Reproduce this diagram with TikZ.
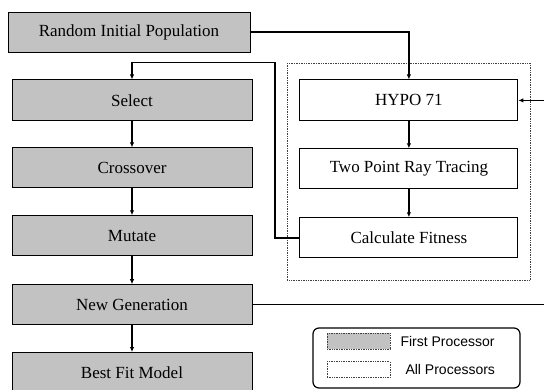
\documentclass[tikz,border=0pt]{standalone}
\usepackage{fontspec}
\setmainfont{Liberation Serif}
\newfontfamily\legendfont{Liberation Sans}
\usepackage{tikz}
\usetikzlibrary{arrows.meta, positioning, fit}
\tikzset{
	every node/.style={
		align=center,
	},
	stage/.style={
		draw, line width=0.9pt, minimum height=40pt, inner sep=0pt,
		font=\fontsize{17}{20}\selectfont,
	},
	first/.style={stage, fill=black!24, minimum width=240pt},
	allproc/.style={stage, fill=white, minimum width=218pt},
	group/.style={draw=black!75, densely dotted, line width=0.7pt, inner sep=0pt},
	flow/.style={line width=1.7pt, -{Latex[length=5pt,width=4.5pt]}},
	swatch/.style={draw=black!75, densely dotted, line width=0.7pt, minimum width=63pt, minimum height=16pt, inner sep=0pt},
	legendtext/.style={font=\legendfont\fontsize{14}{16}\selectfont, inner sep=0pt},
}

\begin{document}
\begin{tikzpicture}
    \useasboundingbox (0,0) rectangle (544pt,389pt);

    \node[first, minimum width=242pt] (random) at (129pt,357pt) {Random Initial Population};
    \node[first, below=27pt of random, xshift=3pt, minimum height=41pt] (select) {Select};
    \node[first, below=26pt of select] (crossover) {Crossover};
    \node[first, below=27pt of crossover] (mutate) {Mutate};
    \node[first, below=28pt of mutate] (newgen) {New Generation};
    \node[first, below=27pt of newgen] (bestfit) {Best Fit Model};

    \node[allproc, right=47pt of select, minimum height=41pt] (hypo) {HYPO 71};
    \node[allproc, below=27pt of hypo] (raytrace) {Two Point Ray Tracing};
    \node[allproc, below=28pt of raytrace] (fitness) {Calculate Fitness};
    \node[group, fit=(hypo)(fitness), inner xsep=12pt, inner ysep=19pt, yshift=-3pt] (cluster) {};

    \coordinate[above=17pt of select.north, xshift=143pt] (loopcorner);
    \coordinate (rim) at (547pt,0);

    \draw[flow] (random.east) -| (hypo.north);
    \draw[flow] (select) -- (crossover);
    \draw[flow] (crossover) -- (mutate);
    \draw[flow] (mutate) -- (newgen);
    \draw[flow] (newgen) -- (bestfit);
    \draw[flow] (hypo) -- (raytrace);
    \draw[flow] (raytrace) -- (fitness);
    \draw[flow] (fitness.west) -| (loopcorner) -| (select.north);
    \draw[flow] (newgen.east) -- (newgen.east -| rim) |- (hypo.east);

    \node[draw, line width=1.2pt, rounded corners=6pt, minimum width=207pt, minimum height=60pt] (legend) at (416.5pt,31pt) {};
    \node[swatch, fill=black!24] (grayswatch) at (358.5pt,48pt) {};
    \node[swatch, fill=white, below=12pt of grayswatch] (whiteswatch) {};
    \node[legendtext, right=10pt of grayswatch] (firstlabel) {First Processor};
    \node[legendtext, right=15pt of whiteswatch] (alllabel) {All Processors};
\end{tikzpicture}
\end{document}
